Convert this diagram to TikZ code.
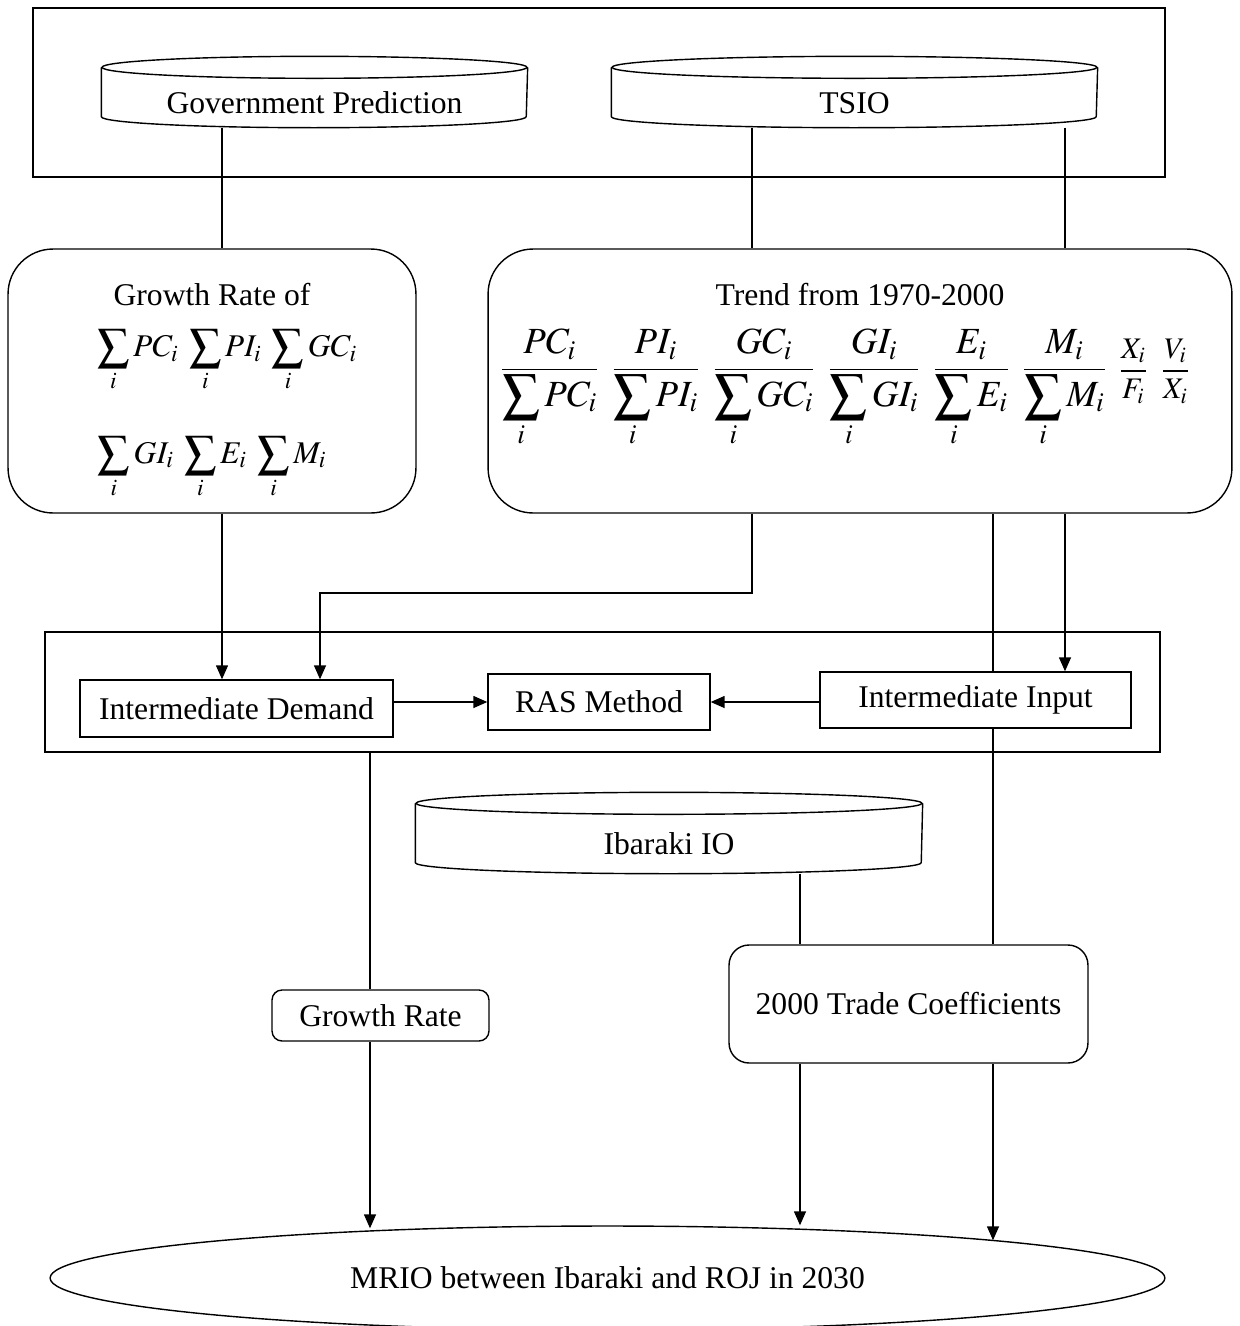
\documentclass[tikz,border=0pt]{standalone}
\usepackage{mathptmx}
\usepackage{fontspec}
\setmainfont{Liberation Serif}
\usetikzlibrary{positioning}
\usetikzlibrary{shapes.geometric}
\usetikzlibrary{arrows.meta}

% share of one component in its sum
\newcommand{\share}[1]{\frac{#1_i}{\displaystyle\sum_i #1_i}}
% outline of a data drum round a node: node, half width
\newcommand{\drumline}[2]{%
	\draw ([yshift=0.22cm]#1.north) ellipse [x radius=#2, y radius=0.22cm];
	\draw ([yshift=0.22cm]#1.north west) -- ([yshift=0.22cm]#1.south west)
		arc [start angle=180, end angle=360, x radius=#2, y radius=0.22cm]
		-- ([yshift=0.22cm]#1.north east);}

\begin{document}
\begin{tikzpicture}[x=0.02cm, y=-0.02cm, line width=0.8pt,
	font=\fontsize{18}{22}\selectfont,
	frame/.style={draw, inner sep=0pt},
	db/.style={inner sep=0pt, minimum height=0.96cm},
	box/.style={draw, fill=white, inner sep=0pt},
	soft/.style={draw, fill=white, inner sep=0pt, rounded corners=0.9cm},
	arr/.style={-{Triangle[length=2.8mm,width=2.4mm]}}
	]
	\useasboundingbox (0,0) rectangle (1240,1326);

	% sources
	\node[frame, minimum width=22.64cm, minimum height=3.38cm] (topframe) at (599,92.5) {};
	\node[db, minimum width=8.5cm] (govp) at (314.5,103) {Government Prediction};
	\drumline{govp}{4.25cm}
	\node[db, minimum width=9.7cm] (tsio) at (854.5,103) {TSIO};
	\drumline{tsio}{4.85cm}

	% growth rates and trends
	\node[soft, minimum width=8.16cm, minimum height=5.28cm] (growth) at (212,381) {};
	\node (grtitle) at ([yshift=-0.92cm]growth.north) {Growth Rate of};
	\node (grrow1) at ([xshift=0.3cm,yshift=-2.24cm]growth.north)
		{$\displaystyle\sum_i PC_i\;\sum_i PI_i\;\sum_i GC_i$};
	\node (grrow2) at ([yshift=-4.38cm]growth.north)
		{$\displaystyle\sum_i GI_i\;\sum_i E_i\;\sum_i M_i$};

	\node[soft, minimum width=14.88cm, minimum height=5.28cm] (trend) at (860,381) {};
	\node (trtitle) at ([yshift=-0.92cm]trend.north) {Trend from 1970-2000};
	\node[font=\fontsize{21}{25}\selectfont] (trrow) at ([xshift=-0.3cm,yshift=-2.8cm]trend.north)
		{$\displaystyle\share{PC}\;\,\share{PI}\;\,\share{GC}\;\,\share{GI}\;\,\share{E}\;\,\share{M}\;\,
		\mbox{\fontsize{17}{20}\selectfont$\displaystyle\frac{X_i}{F_i}\;\;\frac{V_i}{X_i}$}$};

	% RAS step
	\node[frame, minimum width=22.3cm, minimum height=2.4cm] (midframe) at (602.5,692) {};
	\node[box, minimum width=6.26cm, minimum height=1.14cm] (idem) at (236.5,708.5) {Intermediate Demand};
	\node[box, minimum width=4.44cm, minimum height=1.12cm] (ras) at (599,702) {RAS Method};
	\node[box, minimum width=6.22cm, minimum height=1.12cm] (inp) at (975.5,700) {Intermediate Input};

	% regional data
	\node[db, minimum width=10.12cm, minimum height=1.16cm] (ibio) at (669,844) {Ibaraki IO};
	\drumline{ibio}{5.06cm}
	\node[soft, rounded corners=0.4cm, minimum width=7.18cm, minimum height=2.36cm] (tc) at (908.5,1004)
		{2000 Trade Coefficients};
	\node[soft, rounded corners=0.2cm, minimum width=4.34cm, minimum height=1.02cm] (gr) at (380.5,1015.5)
		{Growth Rate};

	% result
	\node[ellipse, draw, inner sep=0pt, minimum width=22.3cm, minimum height=2.08cm] (mrio) at (607.5,1278)
		{MRIO between Ibaraki and ROJ in 2030};

	% columns of the connectors
	\coordinate (colA) at (222,0);
	\coordinate (colB) at (752,0);
	\coordinate (colC) at (1065,0);
	\coordinate (colD) at (993,0);
	\coordinate (colE) at (320,0);
	\coordinate (colF) at (370,0);
	\coordinate (colG) at (800,0);
	\coordinate (bend) at (0,593);

	\draw (govp.south -| colA) -- (growth.north -| colA);
	\draw (tsio.south -| colB) -- (trend.north -| colB);
	\draw (tsio.south -| colC) -- (trend.north -| colC);
	\draw[arr] (growth.south -| colA) -- (idem.north -| colA);
	\draw[arr] (trend.south -| colB) |- (bend -| colE) -- (idem.north -| colE);
	\draw[arr] (trend.south -| colC) -- (inp.north -| colC);
	\draw (trend.south -| colD) -- (inp.north -| colD);
	\draw (inp.south -| colD) -- (tc.north -| colD);
	\draw[arr] (idem.east |- ras) -- (ras.west);
	\draw[arr] (inp.west |- ras) -- (ras.east);
	\draw (midframe.south -| colF) -- (gr.north -| colF);
	\draw (ibio.south -| colG) -- (tc.north -| colG);
	\draw[arr] (gr.south -| colF) -- ([yshift=-0.06cm]mrio.north -| colF);
	\draw[arr] (tc.south -| colG) -- (mrio.north -| colG);
	\draw[arr] (tc.south -| colD) -- ([yshift=-0.3cm]mrio.north -| colD);
\end{tikzpicture}
\end{document}
